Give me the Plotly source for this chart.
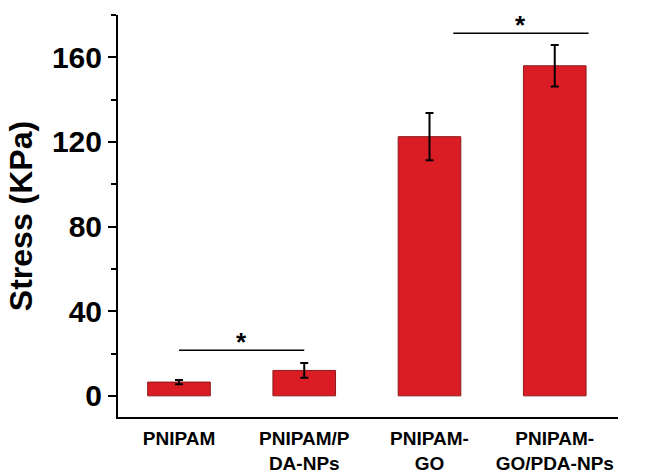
import plotly.graph_objects as go

categories = ["PNIPAM", "PNIPAM/P<br>DA-NPs", "PNIPAM-<br>GO", "PNIPAM-<br>GO/PDA-NPs"]
stress = [6.5, 12.0, 122.5, 156.0]
stress_err = [1.0, 3.5, 11.2, 9.8]

# significance brackets: (x start, x end, y level, label)
sig_x0 = [0.0, 2.19]
sig_x1 = [1.0, 3.27]
sig_y = [21.5, 171.4]
sig_label = ["*", "*"]

xpos = list(range(len(categories)))

fig = go.Figure()
fig.add_trace(go.Bar(
    x=xpos, y=stress, width=0.5,
    marker=dict(color="#DA1C24", line=dict(color="#8B1A1A", width=1)),
    error_y=dict(type="data", array=stress_err, visible=True,
                 color="black", thickness=2, width=4),
))

for x0, x1, y, lab in zip(sig_x0, sig_x1, sig_y, sig_label):
    fig.add_shape(type="line", x0=x0, x1=x1, y0=y, y1=y, xref="x", yref="y",
                  line=dict(color="black", width=1.5))
    fig.add_annotation(x=(x0 + x1) / 2, y=y, text=lab, showarrow=False,
                       yanchor="bottom", yshift=-9,
                       font=dict(family="Liberation Sans", size=26, color="black", weight="bold"))

fig.update_layout(
    width=662, height=472,
    margin=dict(l=118, r=44, t=15, b=55),
    paper_bgcolor="white", plot_bgcolor="white",
    showlegend=False,
    font=dict(family="Liberation Sans", color="black"),
)
fig.update_xaxes(
    range=[-0.487, 3.505],
    tickvals=xpos, ticktext=categories,
    tickfont=dict(family="Liberation Sans", size=19, weight="bold"),
    showline=True, linecolor="black", linewidth=2,
    ticks="", showgrid=False, zeroline=False,
    ticklabelstandoff=3, automargin=False,
)
fig.update_yaxes(
    range=[-10, 180],
    tickvals=[0, 40, 80, 120, 160],
    tickfont=dict(family="Liberation Sans", size=30, weight="bold"),
    showline=True, linecolor="black", linewidth=2,
    ticks="outside", ticklen=8, tickwidth=2, tickcolor="black",
    minor=dict(tickvals=[20, 60, 100, 140, 180], ticks="outside", ticklen=5, tickwidth=2, tickcolor="black"),
    showgrid=False, zeroline=False, automargin=False,
    title=dict(text="Stress (KPa)", font=dict(family="Liberation Sans", size=32, weight="bold"), standoff=10),
)

fig.write_html("out.html", config={"displayModeBar": False},
               post_script="document.body.style.margin='0';")
